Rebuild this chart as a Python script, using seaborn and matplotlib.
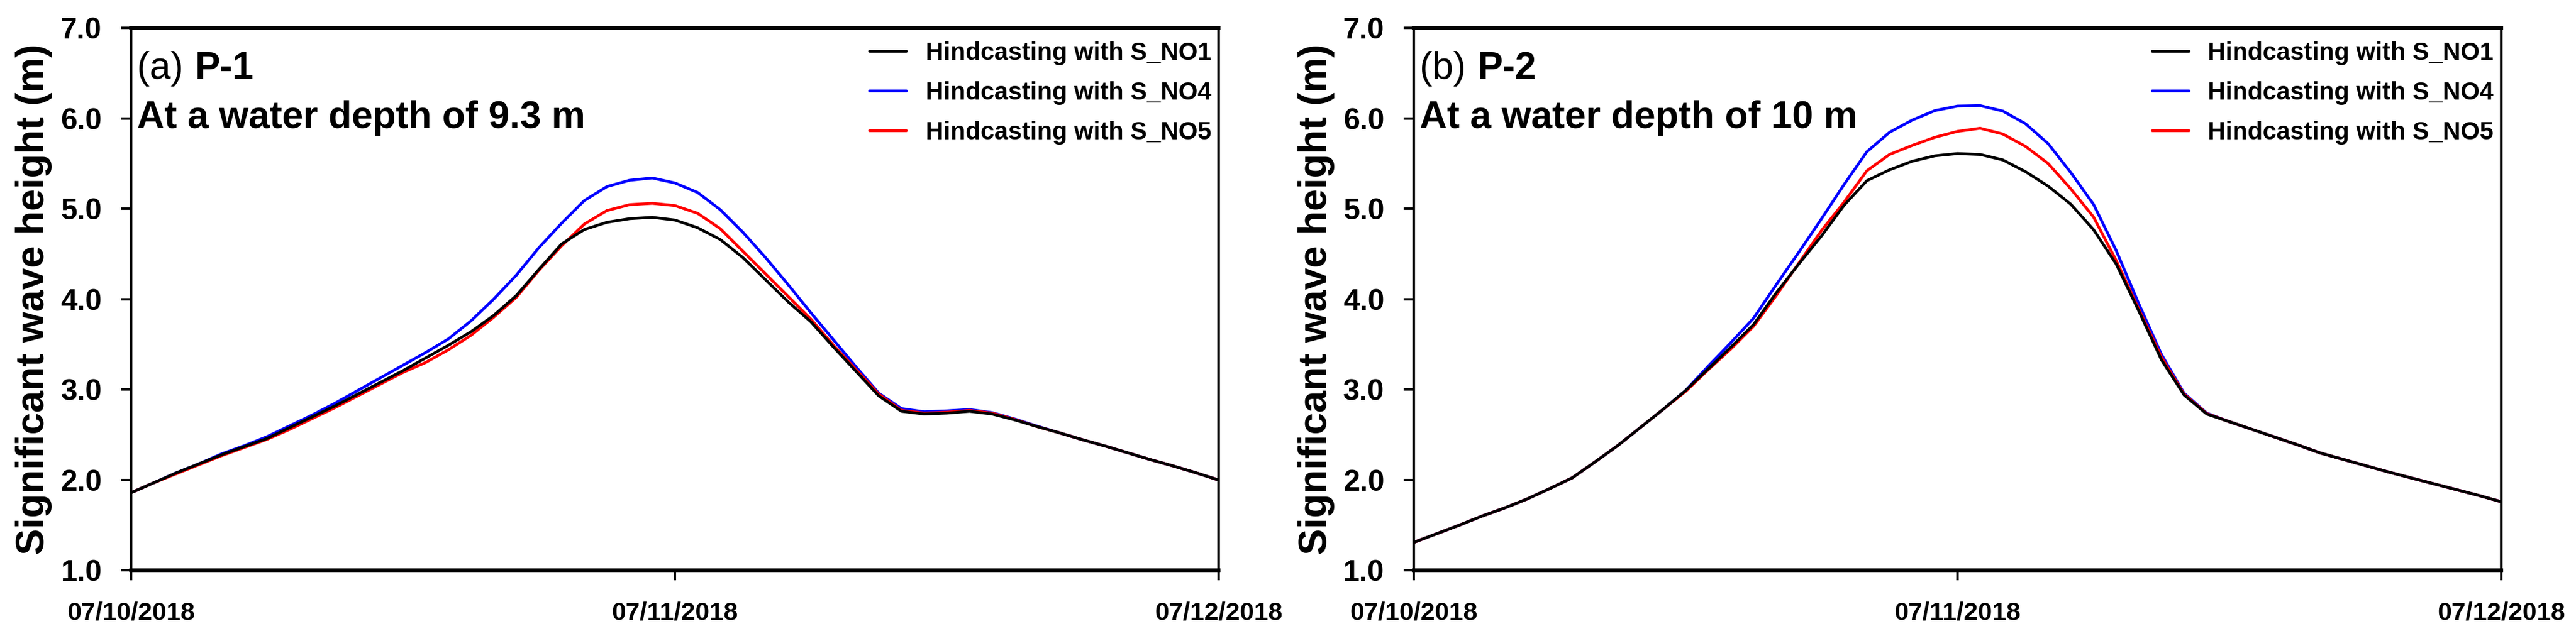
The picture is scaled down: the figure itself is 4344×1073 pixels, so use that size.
import pandas as pd
import matplotlib
matplotlib.use('Agg')
import matplotlib.pyplot as plt
import matplotlib.dates as mdates
from matplotlib.ticker import MultipleLocator, FormatStrFormatter
import seaborn as sns

# ---------------- Data (hourly, 07/10 00:00 -> 07/12 00:00) ----------------
hours = list(range(49))
start_time = '2018-07-10 00:00'

# (a) P-1
p1_no1 = [1.86, 1.97, 2.08, 2.18, 2.28, 2.37, 2.46, 2.58, 2.70, 2.82,
          2.95, 3.08, 3.21, 3.35, 3.49, 3.64, 3.82, 4.04, 4.33, 4.61,
          4.77, 4.85, 4.89, 4.905, 4.875, 4.79, 4.66, 4.46, 4.215, 3.97,
          3.75, 3.47, 3.20, 2.93, 2.76, 2.73, 2.74, 2.76, 2.73, 2.665,
          2.59, 2.52, 2.445, 2.375, 2.30, 2.225, 2.155, 2.08, 2.00]
p1_no4 = [1.86, 1.97, 2.08, 2.18, 2.29, 2.38, 2.48, 2.60, 2.72, 2.85,
          2.99, 3.13, 3.27, 3.41, 3.56, 3.76, 4.00, 4.265, 4.57, 4.84,
          5.09, 5.245, 5.315, 5.34, 5.285, 5.18, 4.99, 4.74, 4.46, 4.16,
          3.85, 3.55, 3.25, 2.96, 2.79, 2.755, 2.765, 2.78, 2.745, 2.675,
          2.595, 2.52, 2.445, 2.375, 2.30, 2.225, 2.155, 2.08, 2.00]
p1_no5 = [1.86, 1.97, 2.07, 2.17, 2.27, 2.36, 2.45, 2.56, 2.68, 2.80,
          2.93, 3.06, 3.19, 3.30, 3.44, 3.60, 3.80, 4.02, 4.32, 4.59,
          4.83, 4.98, 5.045, 5.06, 5.035, 4.95, 4.78, 4.53, 4.28, 4.03,
          3.78, 3.49, 3.22, 2.95, 2.77, 2.74, 2.75, 2.77, 2.74, 2.67,
          2.59, 2.52, 2.445, 2.375, 2.30, 2.225, 2.155, 2.08, 2.00]

# (b) P-2
p2_no1 = [1.31, 1.405, 1.50, 1.60, 1.69, 1.79, 1.905, 2.025, 2.20, 2.38,
          2.58, 2.78, 2.99, 3.23, 3.47, 3.72, 4.07, 4.39, 4.70, 5.04,
          5.31, 5.43, 5.525, 5.585, 5.61, 5.60, 5.54, 5.41, 5.25, 5.05,
          4.77, 4.39, 3.87, 3.33, 2.94, 2.73, 2.645, 2.56, 2.475, 2.39,
          2.30, 2.23, 2.16, 2.09, 2.025, 1.96, 1.895, 1.83, 1.76]
p2_no4 = [1.31, 1.405, 1.50, 1.60, 1.69, 1.79, 1.905, 2.025, 2.20, 2.38,
          2.58, 2.78, 2.99, 3.26, 3.52, 3.79, 4.16, 4.52, 4.89, 5.27,
          5.63, 5.845, 5.98, 6.085, 6.135, 6.14, 6.08, 5.94, 5.72, 5.40,
          5.05, 4.54, 3.95, 3.39, 2.96, 2.74, 2.645, 2.56, 2.475, 2.39,
          2.30, 2.23, 2.16, 2.09, 2.025, 1.96, 1.895, 1.83, 1.76]
p2_no5 = [1.31, 1.405, 1.50, 1.60, 1.69, 1.79, 1.905, 2.025, 2.20, 2.38,
          2.58, 2.78, 2.98, 3.22, 3.45, 3.70, 4.04, 4.40, 4.76, 5.075,
          5.42, 5.60, 5.70, 5.79, 5.855, 5.89, 5.826, 5.69, 5.50, 5.22,
          4.91, 4.43, 3.89, 3.36, 2.95, 2.735, 2.645, 2.56, 2.475, 2.39,
          2.30, 2.23, 2.16, 2.09, 2.025, 1.96, 1.895, 1.83, 1.76]

cases = ['Hindcasting with S_NO1', 'Hindcasting with S_NO4', 'Hindcasting with S_NO5']
case_colors = ['#000000', '#0000ff', '#ff0000']
panel_tags = ['(a)', '(b)']
panel_names = ['P-1', 'P-2']
panel_depths = ['At a water depth of 9.3 m', 'At a water depth of 10 m']
y_label = 'Significant wave height (m)'

# ---------------- Style ----------------
sns.set_style('white')
plt.rcParams['font.family'] = ['Liberation Sans', 'DejaVu Sans']
plt.rcParams['font.weight'] = 'bold'
plt.rcParams['text.color'] = 'black'
plt.rcParams['axes.labelcolor'] = 'black'
plt.rcParams['xtick.color'] = 'black'
plt.rcParams['ytick.color'] = 'black'
plt.rcParams['axes.edgecolor'] = 'black'

times = pd.Timestamp(start_time) + pd.to_timedelta(hours, unit='h')


def make_frame(series):
    frames = []
    for name, vals in zip(cases, series):
        frames.append(pd.DataFrame({'time': times, 'Hs': vals, 'case': name}))
    return pd.concat(frames, ignore_index=True)


fig = plt.figure(figsize=(43.44, 10.73), dpi=100)
ax1 = fig.add_axes([0.0509, 0.1030, 0.4222, 0.8532])
ax2 = fig.add_axes([0.5488, 0.1030, 0.4222, 0.8532])

panels = [(ax1, [p1_no1, p1_no4, p1_no5]), (ax2, [p2_no1, p2_no4, p2_no5])]

for i, (ax, series) in enumerate(panels):
    df = make_frame(series)
    sns.lineplot(data=df, x='time', y='Hs', hue='case', hue_order=cases,
                 palette=dict(zip(cases, case_colors)), linewidth=3.4,
                 errorbar=None, legend=False, ax=ax)
    # black line drawn on top of the others
    ax.lines[0].set_zorder(5)

    # axes ranges and ticks
    ax.set_xlim(times[0], times[-1])
    ax.set_ylim(1, 7)
    ax.yaxis.set_major_locator(MultipleLocator(1))
    ax.yaxis.set_minor_locator(MultipleLocator(0.5))
    ax.yaxis.set_major_formatter(FormatStrFormatter('%.1f'))
    ax.xaxis.set_major_locator(mdates.DayLocator())
    ax.xaxis.set_minor_locator(mdates.HourLocator(byhour=[12]))
    ax.xaxis.set_major_formatter(mdates.DateFormatter('%m/%d/%Y'))

    ax.tick_params(axis='y', which='major', direction='out', length=12.5, width=3,
                   labelsize=36, pad=23, color='black', labelcolor='black')
    ax.tick_params(axis='y', which='minor', direction='out', length=6, width=3, color='black')
    ax.tick_params(axis='x', which='major', direction='out', length=12.5, width=3,
                   labelsize=31, pad=25, color='black', labelcolor='black')
    ax.tick_params(axis='x', which='minor', direction='out', length=6.5, width=3, color='black')
    ax.tick_params(left=True, bottom=True)

    for side in ['top', 'bottom']:
        ax.spines[side].set_linewidth(4.5)
        ax.spines[side].set_color('black')
    for side in ['left', 'right']:
        ax.spines[side].set_linewidth(3.2)
        ax.spines[side].set_color('black')

    ax.set_xlabel('')
    ax.set_ylabel(y_label, fontsize=48, fontweight='bold', color='black')
    ax.yaxis.set_label_coords(-0.0725, 0.5)

    # panel annotations
    t1 = ax.text(0.0055, 0.906, panel_tags[i], transform=ax.transAxes, fontsize=46,
                 fontweight='normal', ha='left', va='baseline', color='black')
    ax.annotate(panel_names[i], xy=(1, 0), xycoords=t1, xytext=(14, 0),
                textcoords='offset points', fontsize=46, fontweight='bold',
                ha='left', va='bottom', color='black')
    ax.text(0.0055, 0.8154, panel_depths[i], transform=ax.transAxes, fontsize=46,
            fontweight='bold', ha='left', va='baseline', color='black')

    ax.legend(handles=ax.lines[:3], labels=cases, loc='upper right',
              bbox_to_anchor=(0.993, 0.975), frameon=False,
              prop={'size': 30, 'weight': 'bold'}, handlelength=1.5,
              handletextpad=0.77, labelspacing=0.65, borderpad=0, borderaxespad=0)

fig.savefig('out.png', dpi=100)
